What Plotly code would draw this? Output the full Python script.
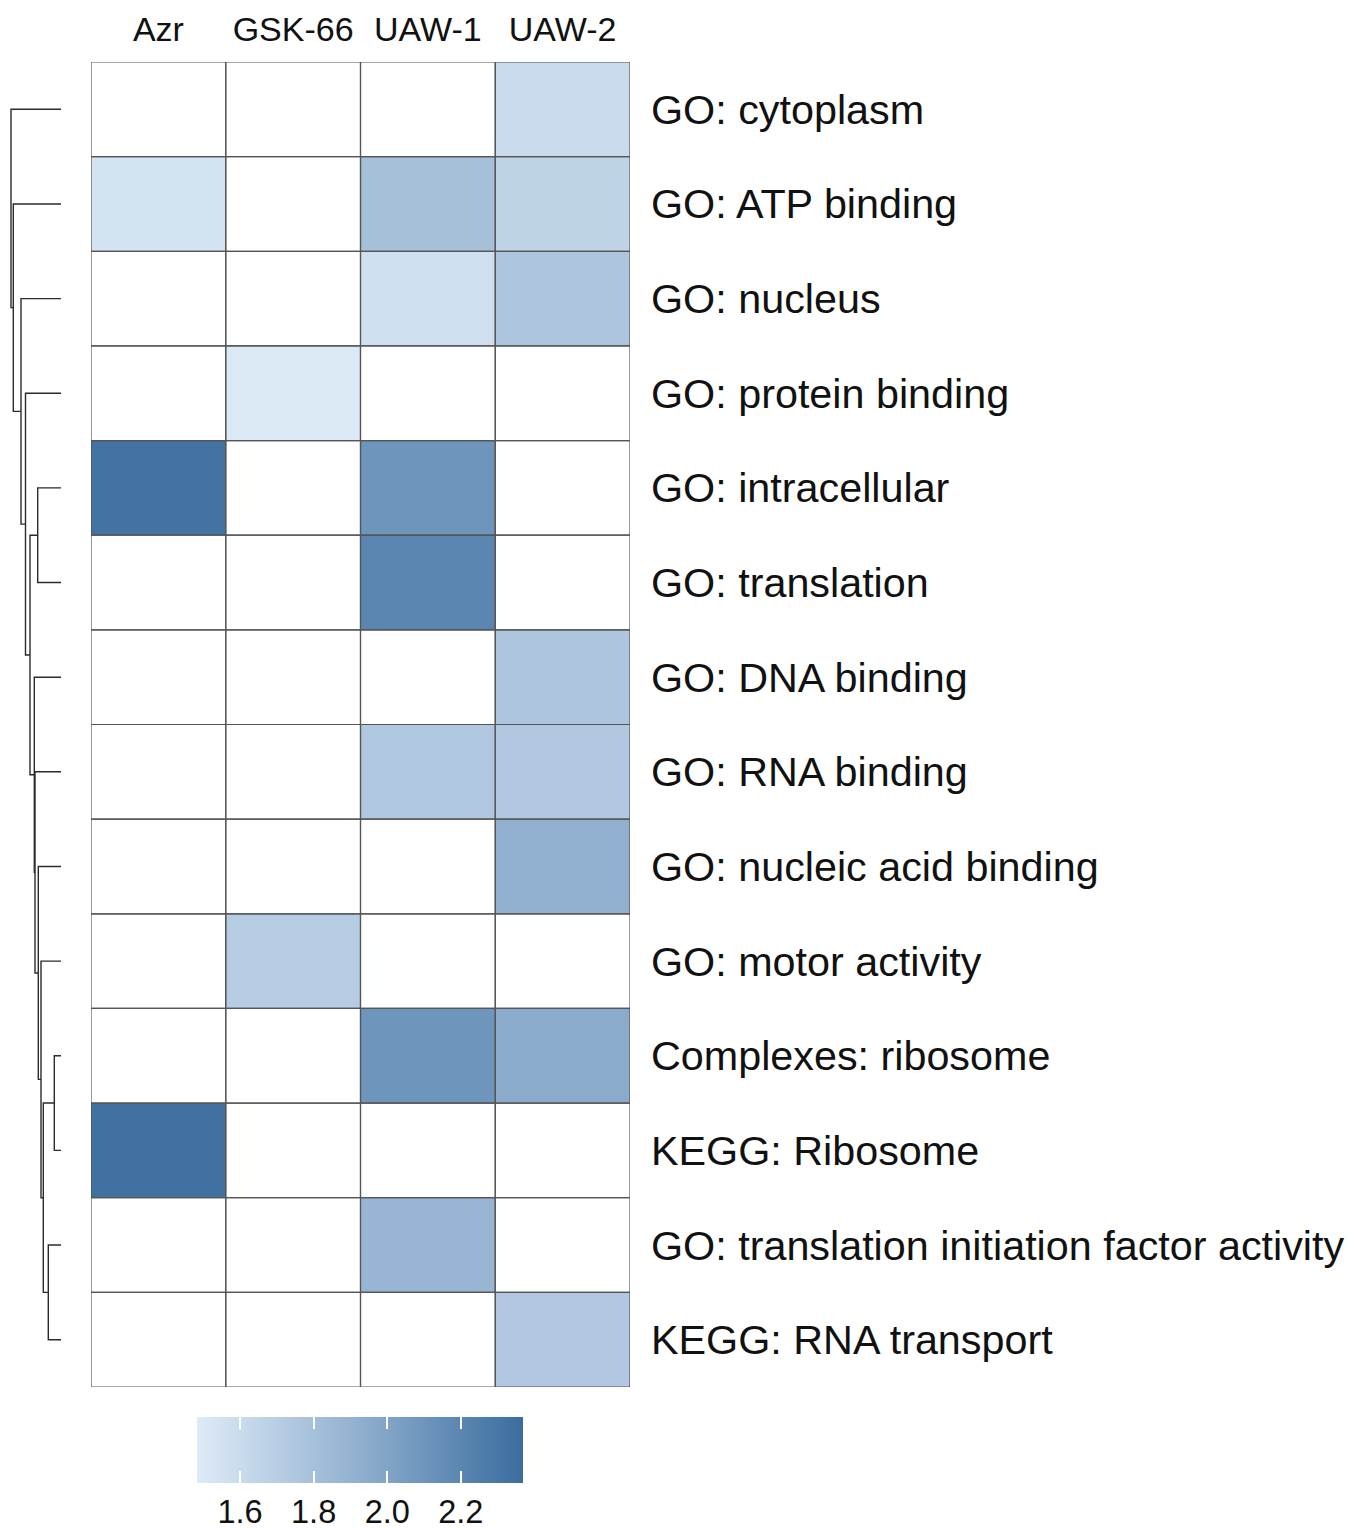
import plotly.graph_objects as go

# ---- data -------------------------------------------------------------
samples = ["Azr", "GSK-66", "UAW-1", "UAW-2"]
terms = [
    "GO: cytoplasm",
    "GO: ATP binding",
    "GO: nucleus",
    "GO: protein binding",
    "GO: intracellular",
    "GO: translation",
    "GO: DNA binding",
    "GO: RNA binding",
    "GO: nucleic acid binding",
    "GO: motor activity",
    "Complexes: ribosome",
    "KEGG: Ribosome",
    "GO: translation initiation factor activity",
    "KEGG: RNA transport",
]
# enrichment score per term (rows) and sample (columns); None = not enriched
scores = [
    [None, None, None, 1.60],
    [1.54, None, 1.80, 1.66],
    [None, None, 1.57, 1.76],
    [None, 1.50, None, None],
    [2.33, None, 2.10, None],
    [None, None, 2.20, None],
    [None, None, None, 1.76],
    [None, None, 1.75, 1.74],
    [None, None, None, 1.92],
    [None, 1.71, None, None],
    [None, None, 2.10, 1.95],
    [2.34, None, None, None],
    [None, None, 1.88, None],
    [None, None, None, 1.74],
]
color_min, color_max = 1.483, 2.369
legend_ticks = [1.6, 1.8, 2.0, 2.2]

# row dendrogram in hclust form: negative = leaf (1-based), positive = earlier merge
merge_left = [-11, -13, 1, -10, -9, -5, -8, -7, 6, -4, -3, -2, -1]
merge_right = [-12, -14, 2, 3, 4, -6, 5, 7, 8, 9, 10, 11, 12]
merge_height = [6.7, 12.7, 17.7, 20.0, 22.7, 23.3, 26.0, 26.7, 31.0, 35.5, 40.0, 47.7, 50.0]

# ---- figure -------------------------------------------------------------
W, H = 1350, 1530
MB = 110  # bottom margin kept free for the colour key labels
FONT = "Liberation Sans, Arial, sans-serif"
colorscale = [[0.0, "#DEEBF7"], [0.5, "#90AFCF"], [1.0, "#3A6D9E"]]


def py(ypix):
    """Pixel row (from the top of the page) -> paper y inside the plot area."""
    return (H - MB - ypix) / (H - MB)


n_rows, n_cols = len(terms), len(samples)

# colour key geometry (pixels)
KEY_X0, KEY_X1, KEY_TOP, KEY_BOTTOM, TICK_LEN = 197, 523, 1417, 1483, 12
key_common = dict(
    orientation="h",
    x=(KEY_X0 + KEY_X1) / 2 / W, xanchor="center",
    y=py(KEY_TOP), yanchor="top",
    lenmode="pixels", len=KEY_X1 - KEY_X0,
    thicknessmode="pixels",
    outlinewidth=0, xpad=0, ypad=0,
    tickvals=legend_ticks,
    ticks="inside", ticklen=TICK_LEN, tickcolor="white", tickwidth=1.6,
)

fig = go.Figure()

fig.add_trace(go.Heatmap(
    z=scores,
    x=list(range(n_cols)),
    y=list(range(n_rows)),
    zmin=color_min, zmax=color_max,
    colorscale=colorscale,
    hoverongaps=False,
    xaxis="x", yaxis="y",
    colorbar=dict(
        **key_common,
        thickness=KEY_BOTTOM - KEY_TOP,
        ticktext=[f"{t:.1f}" for t in legend_ticks],
        tickfont=dict(family=FONT, size=32.5, color="#111"),
    ),
))

# thin strip over the top edge of the key carrying the upper tick marks
fig.add_trace(go.Scatter(
    x=[None], y=[None], mode="markers", xaxis="x2", yaxis="y",
    hoverinfo="skip", showlegend=False,
    marker=dict(
        color=[color_min], cmin=color_min, cmax=color_max,
        colorscale=colorscale, showscale=True,
        colorbar=dict(**key_common, thickness=TICK_LEN, showticklabels=False),
    ),
))

# cell borders
for r in range(n_rows):
    for c in range(n_cols):
        fig.add_shape(type="rect", xref="x", yref="y",
                      x0=c - 0.5, x1=c + 0.5, y0=r - 0.5, y1=r + 0.5,
                      line=dict(color="#555555", width=1.2), layer="above")

# dendrogram geometry from the merge table
def child_pos(idx, node_y, node_h):
    if idx < 0:
        return float(-idx - 1), 0.0
    return node_y[idx - 1], node_h[idx - 1]

node_y, node_h = [], []
for a, b, h in zip(merge_left, merge_right, merge_height):
    ya, ha = child_pos(a, node_y, node_h)
    yb, hb = child_pos(b, node_y, node_h)
    fig.add_trace(go.Scatter(x=[ha, h, h, hb], y=[ya, ya, yb, yb],
                             mode="lines", xaxis="x2", yaxis="y",
                             line=dict(color="#2b2b2b", width=1.4),
                             hoverinfo="skip", showlegend=False))
    node_y.append((ya + yb) / 2)
    node_h.append(h)

fig.update_layout(
    width=W, height=H,
    margin=dict(l=0, r=0, t=0, b=MB, autoexpand=False),
    paper_bgcolor="white", plot_bgcolor="white",
    showlegend=False,
    font=dict(family=FONT, color="#111"),
    xaxis=dict(
        domain=[91 / W, 630 / W], range=[-0.5, n_cols - 0.5],
        side="top", tickvals=list(range(n_cols)), ticktext=samples,
        tickfont=dict(size=34, family=FONT, color="#111"),
        ticks="", ticklabelstandoff=13,
        showgrid=False, zeroline=False, showline=False,
    ),
    yaxis=dict(
        domain=[py(1387), py(62)], range=[n_rows - 0.5, -0.5],
        side="right", tickvals=list(range(n_rows)), ticktext=terms,
        tickfont=dict(size=41.3, family=FONT, color="#111"),
        ticks="", ticklabelstandoff=20,
        showgrid=False, zeroline=False, showline=False,
    ),
    xaxis2=dict(
        domain=[0, 91 / W], range=[61, -30],
        showticklabels=False, ticks="", showgrid=False,
        zeroline=False, showline=False,
    ),
)

fig.write_html("out.html")
